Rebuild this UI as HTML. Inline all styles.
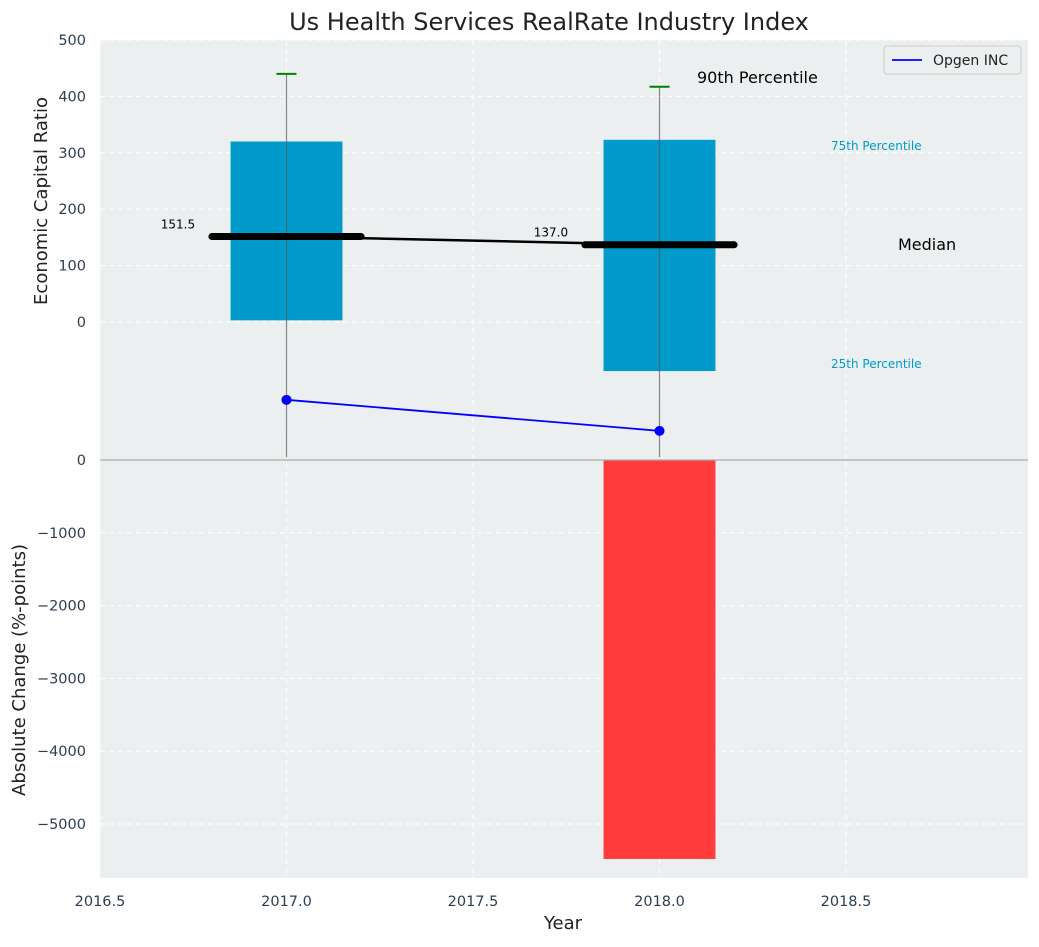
<!DOCTYPE html>
<html><head><meta charset="utf-8"><style>
body{margin:0;background:#fff;font-family:"Liberation Sans","DejaVu Sans",sans-serif}
svg text{font-family:"DejaVu Sans","Liberation Sans",sans-serif}
</style></head><body>
<svg id="c" width="1039" height="942" xmlns="http://www.w3.org/2000/svg"></svg>
<script>
const years=[2017,2018];
const q25=[3,-87];
const q75=[320,323];
const medians=[151.5,137.0];
const p90=[440,417];
const whiskLow=[-240,-240];
const opgen=[-138,-193];
const absChange=[0,-5480];
const xTicks=[2016.5,2017.0,2017.5,2018.0,2018.5];
const topTicks=[0,100,200,300,400,500];
const botTicks=[0,-1000,-2000,-3000,-4000,-5000];

const NS="http://www.w3.org/2000/svg",svg=document.getElementById('c');
function el(t,a,txt){const e=document.createElementNS(NS,t);for(const k in a)e.setAttribute(k,a[k]);if(txt!==undefined)e.textContent=txt;svg.appendChild(e);return e;}
const L=100,R=1028,T=40,M=460,B=878;
const x=v=>L+(v-2016.5)*373;
const yt=v=>322-v*0.564;
function ybf(v){return 460-v*0.0728;}

let e;
e=el('rect',{x:L,y:T,width:R-L,height:M-T,fill:'#ebeff0'});

e=el('rect',{x:L,y:M,width:R-L,height:B-M,fill:'#ebeff0'});

xTicks.forEach(v=>{e=el('line',{x1:x(v),x2:x(v),y1:T,y2:B,stroke:'#fff','stroke-dasharray':'5,4','stroke-width':1});

e=el('text',{x:x(v),y:906,'text-anchor':'middle','font-size':14.5,fill:'#2c3e50'},v.toFixed(1));
});
topTicks.forEach(v=>{e=el('line',{x1:L,x2:R,y1:yt(v),y2:yt(v),stroke:'#fff','stroke-dasharray':'5,4'});

e=el('text',{x:L-14,y:yt(v)+5,'text-anchor':'end','font-size':14.5,fill:'#2c3e50'},v);
});
botTicks.forEach(v=>{e=el('line',{x1:L,x2:R,y1:ybf(v),y2:ybf(v),stroke:'#fff','stroke-dasharray':'5,4'});

e=el('text',{x:L-14,y:ybf(v)+5,'text-anchor':'end','font-size':14.5,fill:'#2c3e50'},v===0?'0':'\u2212'+(-v));
});
years.forEach((yr,i)=>{
e=el('rect',{x:x(yr-0.15),y:yt(q75[i]),width:x(yr+0.15)-x(yr-0.15),height:yt(q25[i])-yt(q75[i]),fill:'#009bcb'});

e=el('line',{x1:x(yr),x2:x(yr),y1:yt(p90[i]),y2:Math.min(M-2,yt(whiskLow[i])),stroke:'#555','stroke-opacity':0.7,'stroke-width':1.2});

e=el('line',{x1:x(yr)-10,x2:x(yr)+10,y1:yt(p90[i]),y2:yt(p90[i]),stroke:'green','stroke-width':2});

if(absChange[i]!==0){e=el('rect',{x:x(yr-0.15),y:ybf(0),width:x(yr+0.15)-x(yr-0.15),height:ybf(absChange[i])-ybf(0),fill:'#ff3b3b'});
}
});
e=el('line',{x1:x(years[0]),y1:yt(medians[0]),x2:x(years[1]),y2:yt(medians[1]),stroke:'#000','stroke-width':2.5});

years.forEach((yr,i)=>{
e=el('line',{x1:x(yr-0.2),x2:x(yr+0.2),y1:yt(medians[i]),y2:yt(medians[i]),stroke:'#000','stroke-width':7,'stroke-linecap':'round'});

e=el('text',{x:x(yr-0.245),y:yt(medians[i])-8,'text-anchor':'end','font-size':12,fill:'#000'},medians[i].toFixed(1));

});
e=el('polyline',{points:years.map((yr,i)=>x(yr)+','+yt(opgen[i])).join(' '),fill:'none',stroke:'blue','stroke-width':1.8});

years.forEach((yr,i)=>{e=el('circle',{cx:x(yr),cy:yt(opgen[i]),r:5,fill:'blue'});
});
e=el('line',{x1:L,x2:R,y1:M,y2:M,stroke:'#aaa','stroke-width':1.2});

[['90th Percentile',697,83,16,'#000'],['75th Percentile',831,150,12,'#009bcb'],['Median',898,250,16,'#000'],['25th Percentile',831,368,12,'#009bcb']].forEach(a=>{
e=el('text',{x:a[1],y:a[2],'font-size':a[3],fill:a[4]},a[0]);
});
e=el('text',{x:549,y:30,'text-anchor':'middle','font-size':24,fill:'#222'},'Us Health Services RealRate Industry Index');

e=el('text',{x:563,y:929,'text-anchor':'middle','font-size':18,fill:'#222'},'Year');

e=el('text',{x:47,y:201,'text-anchor':'middle','font-size':18,fill:'#222',transform:'rotate(-90 47 201)'},'Economic Capital Ratio');

e=el('text',{x:25,y:670,'text-anchor':'middle','font-size':18,fill:'#222',transform:'rotate(-90 25 670)'},'Absolute Change (%-points)');

e=el('rect',{x:884,y:46,width:137,height:28,fill:'#ebeff0',stroke:'#ccc',rx:3});

e=el('line',{x1:892,x2:922,y1:60,y2:60,stroke:'blue','stroke-width':1.8});

e=el('text',{x:933,y:65,'font-size':14,fill:'#222'},'Opgen INC');

</script>
</body></html>
